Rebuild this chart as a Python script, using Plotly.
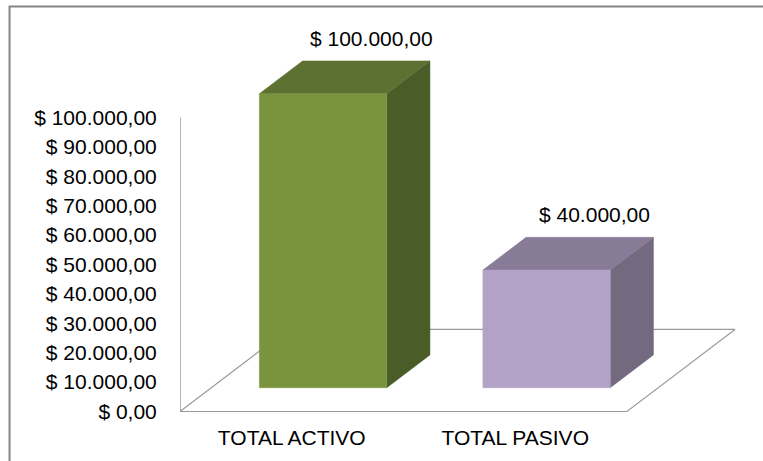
import plotly.graph_objects as go

# ---- data ----
categories = ["TOTAL ACTIVO", "TOTAL PASIVO"]
values = [100000, 40000]
tick_values = [0, 10000, 20000, 30000, 40000, 50000, 60000, 70000, 80000, 90000, 100000]

front_colors = ["#7A943E", "#B3A2C7"]
top_colors = ["#5C7132", "#877B97"]
side_colors = ["#4A5C28", "#736A80"]


def money(v):
    s = f"{v:,.2f}".replace(",", "X").replace(".", ",").replace("X", ".")
    return "$ " + s


# ---- pseudo-3D geometry (in data units) ----
DX = 0.4832      # horizontal shift for full floor depth (category units)
DY = 27900       # vertical shift for full floor depth (value units)
D1, D2 = 0.29, 0.69   # bar front / back depth fractions
W = 0.57              # bar width (category units)


def proj(x, y, d):
    return x + d * DX, y + d * DY


def poly(pts):
    xs = [p[0] for p in pts] + [pts[0][0]]
    ys = [p[1] for p in pts] + [pts[0][1]]
    return xs, ys


FONT = "Liberation Sans, Arial"
fig = go.Figure()

# floor
n = len(categories)
fx, fy = poly([proj(-0.5, 0, 0), proj(n - 0.5, 0, 0), proj(n - 0.5, 0, 1), proj(-0.5, 0, 1)])
fig.add_trace(go.Scatter(x=fx, y=fy, mode="lines", fill="toself", fillcolor="white",
                         line=dict(color="#9A9A9A", width=1.2), hoverinfo="skip", showlegend=False))

# y axis line
fig.add_trace(go.Scatter(x=[-0.5, -0.5], y=[0, max(tick_values)], mode="lines",
                         line=dict(color="#9A9A9A", width=1.5), hoverinfo="skip", showlegend=False))

for i, v in enumerate(values):
    x0, x1 = i - W / 2, i + W / 2
    front = [proj(x0, 0, D1), proj(x1, 0, D1), proj(x1, v, D1), proj(x0, v, D1)]
    top = [proj(x0, v, D1), proj(x1, v, D1), proj(x1, v, D2), proj(x0, v, D2)]
    side = [proj(x1, 0, D1), proj(x1, 0, D2), proj(x1, v, D2), proj(x1, v, D1)]
    for face, col in ((side, side_colors[i]), (top, top_colors[i]), (front, front_colors[i])):
        xs, ys = poly(face)
        fig.add_trace(go.Scatter(x=xs, y=ys, mode="lines", fill="toself", fillcolor=col,
                                 line=dict(color=col, width=0.5), hoverinfo="skip",
                                 showlegend=False))
    lx, ly = proj(i, v, D2)
    fig.add_annotation(x=lx, y=ly, text=money(v), showarrow=False, xanchor="center",
                       yanchor="bottom", yshift=9, xshift=5,
                       font=dict(family=FONT, size=21, color="#000000"))

PX_PER_UNIT = 0.00294
fig.update_layout(
    width=763, height=461,
    margin=dict(l=180, r=20, t=20, b=44, autoexpand=False),
    paper_bgcolor="white", plot_bgcolor="rgba(0,0,0,0)",
    font=dict(family=FONT, size=21, color="#000000"),
    xaxis=dict(range=[-0.5, -0.5 + 563 / 223.5], tickvals=list(range(n)), ticktext=categories,
               showgrid=False, zeroline=False, showline=False, ticks="outside", ticklen=2,
               tickcolor="rgba(0,0,0,0)", fixedrange=True, automargin=False),
    yaxis=dict(range=[-5.5 / PX_PER_UNIT, 391.5 / PX_PER_UNIT], tickvals=tick_values,
               ticktext=[money(t) for t in tick_values], showgrid=False, zeroline=False,
               showline=False, ticks="outside", ticklen=18, tickcolor="rgba(0,0,0,0)",
               fixedrange=True, automargin=False),
    shapes=[dict(type="rect", xref="paper", yref="paper", x0=-0.3028, x1=1.06, y0=-0.14,
                 y1=(417 - 6.5) / 397, line=dict(color="#868686", width=2),
                 fillcolor="rgba(0,0,0,0)", layer="below")],
)

fig.write_html("out.html", config={"displayModeBar": False},
               post_script="document.body.style.margin='0';")
